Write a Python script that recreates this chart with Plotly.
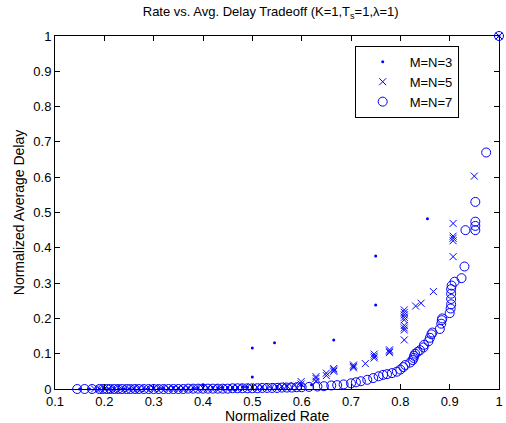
import plotly.graph_objects as go

# Data
# M=N=3 (dots)
x3 = [0.15, 0.17, 0.19, 0.20, 0.21, 0.22, 0.23, 0.24, 0.25, 0.26, 0.27, 0.28, 0.29, 0.30,
      0.31, 0.32, 0.33, 0.34, 0.35, 0.36, 0.37, 0.38, 0.39, 0.40, 0.41, 0.42, 0.43, 0.44,
      0.45, 0.46, 0.47, 0.48, 0.49, 0.50, 0.50, 0.50, 0.52, 0.545, 0.55, 0.57, 0.60, 0.62,
      0.665, 0.75, 0.75, 0.855, 1.0]
y3 = [0.0, 0.0, 0.0, 0.001, 0.0, 0.001, 0.0, 0.001, 0.0, 0.001, 0.0, 0.001, 0.0, 0.002,
      0.001, 0.002, 0.001, 0.004, 0.002, 0.002, 0.003, 0.002, 0.003, 0.012, 0.003, 0.004, 0.003, 0.004,
      0.004, 0.005, 0.004, 0.006, 0.005, 0.034, 0.116, 0.006, 0.006, 0.131, 0.008, 0.009, 0.010, 0.012,
      0.139, 0.238, 0.377, 0.482, 1.0]

# M=N=5 (crosses)
x5 = [0.18, 0.19, 0.20, 0.21, 0.22, 0.235, 0.25, 0.26, 0.27, 0.285, 0.30, 0.315, 0.33, 0.34,
      0.35, 0.36, 0.37, 0.385, 0.40, 0.41, 0.42, 0.435, 0.45, 0.46, 0.47, 0.485, 0.50, 0.51,
      0.52, 0.535, 0.55, 0.56, 0.57, 0.585, 0.599, 0.599, 0.629, 0.629, 0.629, 0.65, 0.65,
      0.665, 0.665, 0.665, 0.705, 0.705, 0.705, 0.729, 0.747, 0.747, 0.747, 0.778, 0.778, 0.778,
      0.808, 0.808, 0.808, 0.808, 0.808, 0.808, 0.808, 0.808, 0.808,
      0.831, 0.842, 0.867, 0.907, 0.907, 0.907, 0.907, 0.907, 0.95, 1.0]
y5 = [0.0, 0.0, 0.001, 0.0, 0.0, 0.001, 0.001, 0.001, 0.001, 0.001, 0.001, 0.002, 0.002, 0.002,
      0.002, 0.002, 0.002, 0.003, 0.003, 0.003, 0.003, 0.004, 0.004, 0.004, 0.004, 0.005, 0.005, 0.005,
      0.006, 0.006, 0.007, 0.008, 0.009, 0.010, 0.014, 0.021, 0.022, 0.030, 0.035, 0.038, 0.045,
      0.050, 0.054, 0.058, 0.060, 0.064, 0.068, 0.072, 0.088, 0.093, 0.099, 0.103, 0.107, 0.111,
      0.139, 0.167, 0.173, 0.180, 0.196, 0.203, 0.210, 0.217, 0.224,
      0.235, 0.243, 0.276, 0.375, 0.420, 0.427, 0.433, 0.469, 0.603, 1.0]

# M=N=7 (circles)
x7 = [0.145, 0.16, 0.175, 0.19, 0.197, 0.205, 0.212, 0.22, 0.228, 0.236, 0.245, 0.253, 0.262,
      0.27, 0.28, 0.29, 0.3, 0.31, 0.32, 0.33, 0.34, 0.35, 0.36, 0.37, 0.38, 0.39, 0.4, 0.41,
      0.42, 0.43, 0.44, 0.45, 0.46, 0.47, 0.48, 0.49, 0.5, 0.51, 0.52, 0.53, 0.54, 0.55, 0.56,
      0.57, 0.58, 0.59,
      0.60, 0.615, 0.632, 0.645, 0.66, 0.672, 0.685, 0.70, 0.71, 0.72, 0.733, 0.745, 0.756,
      0.765, 0.773, 0.783, 0.793, 0.80, 0.806, 0.81, 0.82, 0.825, 0.827, 0.828, 0.83, 0.835,
      0.84, 0.847, 0.848, 0.857, 0.86, 0.863, 0.865, 0.88, 0.883, 0.884, 0.885, 0.90, 0.902,
      0.903, 0.903, 0.903, 0.903, 0.904, 0.91, 0.924, 0.93, 0.932, 0.952, 0.952, 0.952, 0.952,
      0.974, 1.0]
y7 = [0.0, 0.0, 0.0, 0.0, 0.0, 0.0, 0.0, 0.0, 0.0, 0.0, 0.0, 0.0, 0.0,
      0.0, 0.0, 0.0, 0.0, 0.0, 0.0, 0.0, 0.0, 0.0, 0.0, 0.001, 0.001, 0.001, 0.001, 0.001,
      0.001, 0.001, 0.001, 0.001, 0.002, 0.002, 0.002, 0.002, 0.002, 0.002, 0.003, 0.003, 0.003,
      0.003, 0.004, 0.004, 0.004, 0.005,
      0.005, 0.006, 0.007, 0.008, 0.010, 0.011, 0.013, 0.016, 0.019, 0.022, 0.026, 0.031, 0.036,
      0.040, 0.042, 0.045, 0.049, 0.055, 0.062, 0.068, 0.075, 0.082, 0.088, 0.094, 0.100, 0.105,
      0.110, 0.118, 0.125, 0.135, 0.145, 0.155, 0.160, 0.170, 0.185, 0.195, 0.200, 0.215, 0.228,
      0.240, 0.255, 0.270, 0.283, 0.293, 0.304, 0.314, 0.347, 0.450, 0.450, 0.462, 0.474, 0.530,
      0.670, 1.0]

x_ticks = [0.1, 0.2, 0.3, 0.4, 0.5, 0.6, 0.7, 0.8, 0.9, 1.0]
x_tick_labels = ['0.1', '0.2', '0.3', '0.4', '0.5', '0.6', '0.7', '0.8', '0.9', '1']
y_ticks = [0.0, 0.1, 0.2, 0.3, 0.4, 0.5, 0.6, 0.7, 0.8, 0.9, 1.0]
y_tick_labels = ['0', '0.1', '0.2', '0.3', '0.4', '0.5', '0.6', '0.7', '0.8', '0.9', '1']

blue = 'rgb(0,0,255)'
font = 'Liberation Sans, Arial, Helvetica, sans-serif'

fig = go.Figure()
fig.add_trace(go.Scatter(x=x3, y=y3, mode='markers', name='M=N=3', cliponaxis=False,
                         marker=dict(symbol='circle', size=3, color=blue)))
fig.add_trace(go.Scatter(x=x5, y=y5, mode='markers', name='M=N=5', cliponaxis=False,
                         marker=dict(symbol='x-thin-open', size=7, color=blue,
                                     line=dict(width=1, color=blue))))
fig.add_trace(go.Scatter(x=x7, y=y7, mode='markers', name='M=N=7', cliponaxis=False,
                         marker=dict(symbol='circle-open', size=9, color=blue,
                                     line=dict(width=1, color=blue))))

axis_style = dict(
    showline=True, linecolor='black', linewidth=1, mirror='ticks',
    ticks='inside', ticklen=5, tickcolor='black', showgrid=False, zeroline=False,
    tickfont=dict(size=13, color='black'), ticklabeloverflow='allow',
)

fig.update_layout(
    width=506, height=423,
    margin=dict(l=55, r=3, t=36, b=34),
    paper_bgcolor='white', plot_bgcolor='white',
    font=dict(family=font, color='black'),
    title=dict(text='Rate vs. Avg. Delay Tradeoff (K=1,T<sub>s</sub>=1,λ=1)',
               x=0.535, xanchor='center', y=0.972, yanchor='middle',
               font=dict(size=13)),
    xaxis=dict(axis_style, range=[0.1, 1], tickvals=x_ticks, ticktext=x_tick_labels),
    yaxis=dict(axis_style, range=[0, 1], tickvals=y_ticks, ticktext=y_tick_labels,
               title=dict(text='Normalized Average Delay', font=dict(size=14), standoff=5)),
    legend=dict(x=0.675, y=0.972, xanchor='left', yanchor='top',
                bgcolor='white', bordercolor='black', borderwidth=1,
                font=dict(size=13), itemwidth=44, tracegroupgap=0),
    annotations=[dict(text='Normalized Rate', xref='paper', yref='paper',
                      x=0.5, y=-0.077, xanchor='center', yanchor='middle',
                      showarrow=False, font=dict(size=14))],
)

fig.write_html("out.html", post_script="document.body.style.margin='0';",
               config={'displayModeBar': False})
